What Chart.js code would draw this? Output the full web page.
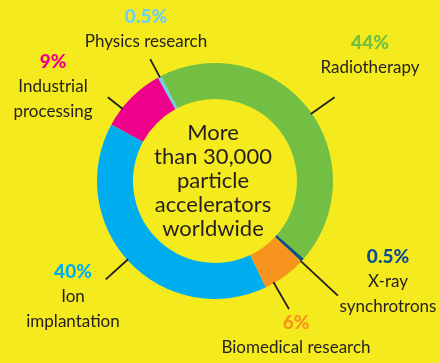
<!DOCTYPE html>
<html>
<head>
<meta charset="utf-8">
<script src="https://cdn.jsdelivr.net/npm/chart.js@4"></script>
<style>
  html, body { margin: 0; padding: 0; background: #f4ea1e; }
  #wrap { width: 440px; height: 363px; position: relative; }
</style>
</head>
<body>
<div id="wrap"><canvas id="accelChart"></canvas></div>
<script>
// accelerator uses, clockwise from the top
const uses = ["Physics research", "Radiotherapy", "X-ray synchrotrons", "Biomedical research", "Ion implantation", "Industrial processing"];
const shares = [0.5, 44, 0.5, 6, 40, 9];
const colours = ["#6dcff6", "#72bf44", "#0d4e8e", "#f7941d", "#00aeef", "#ec008c"];

// how each caption is set out around the ring
const captions = [
  { lines: ["Physics research"], x: 146, y: 17, angle: -28, len: 20 },
  { lines: ["Radiotherapy"], x: 370, y: 43, angle: 55, len: 28 },
  { lines: ["X-ray", "synchrotrons"], x: 388, y: 257, angle: 133, len: 50 },
  { lines: ["Biomedical research"], x: 296, y: 323, angle: 150, len: 30 },
  { lines: ["Ion", "implantation"], x: 73, y: 272, angle: 228, len: 29 },
  { lines: ["Industrial", "processing"], x: 53, y: 62, angle: -52, len: 18 },
];
const centreText = ["More", "than 30,000", "particle", "accelerators", "worldwide"];

const TEXT = "#231f20";
const FONT = "Lato, 'DejaVu Sans', sans-serif";

const labelPlugin = {
  id: "ringLabels",
  afterDatasetsDraw(chart) {
    const ctx = chart.ctx;
    const arc = chart.getDatasetMeta(0).data[0];
    const { x: cx, y: cy, outerRadius } = arc.getProps(["x", "y", "outerRadius"], true);
    ctx.save();
    ctx.textAlign = "center";
    ctx.textBaseline = "middle";

    captions.forEach((c, i) => {
      // leader line, out from the rim
      const a = (c.angle - 90) * Math.PI / 180;
      const r0 = outerRadius - 1;
      const r1 = outerRadius + c.len;
      ctx.strokeStyle = TEXT;
      ctx.lineWidth = 1.8;
      ctx.beginPath();
      ctx.moveTo(cx + Math.cos(a) * r0, cy + Math.sin(a) * r0);
      ctx.lineTo(cx + Math.cos(a) * r1, cy + Math.sin(a) * r1);
      ctx.stroke();

      ctx.fillStyle = colours[i];
      ctx.font = "900 19px " + FONT;
      ctx.fillText(shares[i] + "%", c.x, c.y);
      ctx.fillStyle = TEXT;
      ctx.font = "17px " + FONT;
      c.lines.forEach((t, k) => ctx.fillText(t, c.x, c.y + 25 + k * 24.5));
    });

    ctx.font = "22px " + FONT;
    ctx.fillStyle = TEXT;
    centreText.forEach((t, k) => ctx.fillText(t, cx - 2, cy - 48 + k * 24));
    ctx.restore();
  },
};

new Chart(document.getElementById("accelChart"), {
  type: "doughnut",
  data: {
    labels: uses,
    datasets: [{
      data: shares,
      backgroundColor: colours,
      borderWidth: 0,
      hoverOffset: 0,
    }],
  },
  options: {
    responsive: true,
    maintainAspectRatio: false,
    animation: false,
    rotation: -29,
    cutout: "69.5%",
    layout: { padding: { left: 97, right: 107, top: 63, bottom: 64 } },
    plugins: { legend: { display: false }, tooltip: { enabled: false } },
  },
  plugins: [labelPlugin],
});
</script>
</body>
</html>
